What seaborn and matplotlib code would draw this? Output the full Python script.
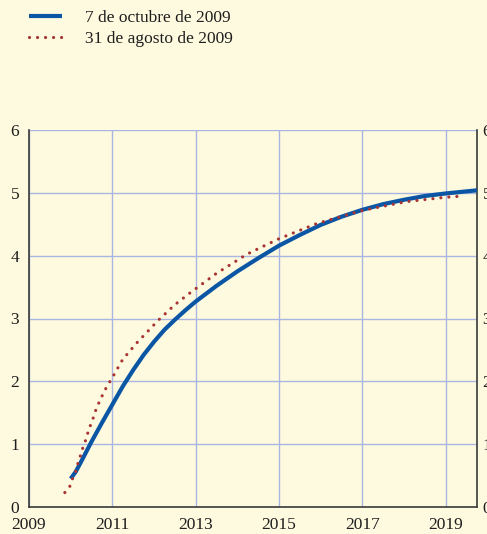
import matplotlib
matplotlib.use("Agg")
import matplotlib.pyplot as plt
import seaborn as sns

# 7 de octubre de 2009
oct_years = [2010.00, 2010.12, 2010.25, 2010.50, 2010.75, 2011.00, 2011.25, 2011.50,
             2011.75, 2012.00, 2012.25, 2012.50, 2012.75, 2013.00, 2013.50, 2014.00,
             2014.50, 2015.00, 2015.50, 2016.00, 2016.50, 2017.00, 2017.50, 2018.00,
             2018.50, 2019.00, 2019.75]
oct_vals = [0.45, 0.56, 0.72, 1.04, 1.34, 1.63, 1.92, 2.18,
            2.42, 2.63, 2.82, 2.98, 3.13, 3.27, 3.52, 3.75,
            3.96, 4.16, 4.33, 4.49, 4.62, 4.73, 4.82, 4.89,
            4.95, 4.99, 5.04]

# 31 de agosto de 2009
aug_years = [2009.86, 2009.98, 2010.05, 2010.13, 2010.18, 2010.24, 2010.30, 2010.37,
             2010.42, 2010.49, 2010.56, 2010.62, 2010.70, 2010.79, 2010.88, 2011.00,
             2011.25, 2011.57, 2012.10, 2012.50, 2012.85, 2013.48, 2014.15, 2014.31,
             2015.00, 2015.90, 2017.00, 2018.06, 2019.00, 2019.45]
aug_vals = [0.23, 0.33, 0.46, 0.58, 0.71, 0.83, 0.96, 1.08,
            1.20, 1.33, 1.45, 1.58, 1.69, 1.82, 1.93, 2.06,
            2.35, 2.60, 2.97, 3.22, 3.40, 3.71, 3.99, 4.05,
            4.27, 4.51, 4.72, 4.86, 4.93, 4.95]

x_ticks = [2009, 2011, 2013, 2015, 2017, 2019]
y_ticks = [0, 1, 2, 3, 4, 5, 6]

bg = "#FEFADF"
grid_c = "#A9B6E2"
sns.set_style("white", {"axes.facecolor": bg, "figure.facecolor": bg})
plt.rcParams["font.family"] = ["Liberation Serif", "DejaVu Serif"]

fig = plt.figure(figsize=(4.87, 5.34), dpi=100)
ax = fig.add_axes([29 / 487, 1 - 507 / 534, (477 - 29) / 487, (507 - 130) / 534])

sns.lineplot(x=oct_years, y=oct_vals, ax=ax, color="#0B56A4", linewidth=3.0,
             solid_capstyle="butt", solid_joinstyle="round",
             label="7 de octubre de 2009", zorder=3)
sns.lineplot(x=aug_years, y=aug_vals, ax=ax, color="#A83434", linewidth=2.3,
             linestyle=(0, (0.01, 2.5)), dash_capstyle="round",
             label="31 de agosto de 2009", zorder=4)

ax.set_xlim(2009, 2019.75)
ax.set_ylim(0, 6)
ax.set_xticks(x_ticks)
ax.set_yticks(y_ticks)
ax.grid(True, color=grid_c, linewidth=1.0)
ax.set_axisbelow(True)
ax.set_xlabel("")
ax.set_ylabel("")

for side in ["left", "bottom", "right"]:
    ax.spines[side].set_color("#3a3a3a")
    ax.spines[side].set_linewidth(1.2)
ax.spines["top"].set_visible(False)

ax.tick_params(axis="x", direction="out", length=4, width=1, color="#3a3a3a",
               labelsize=12.5, pad=3.5, labelcolor="#1e1e1e")
ax.tick_params(axis="y", length=0, labelsize=12.5, pad=7, labelcolor="#1e1e1e")

ax2 = ax.twinx()
ax2.set_ylim(0, 6)
ax2.set_yticks(y_ticks)
ax2.tick_params(axis="y", length=0, labelsize=12.5, pad=4, labelcolor="#1e1e1e")
for side in ["left", "bottom", "top", "right"]:
    ax2.spines[side].set_visible(False)

ax.legend(loc="upper left", bbox_to_anchor=(29 / 487, 1 - 10 / 534),
          bbox_transform=fig.transFigure, frameon=False, fontsize=12.5,
          handlelength=1.9, handletextpad=1.3, labelspacing=0.25,
          borderpad=0, borderaxespad=0, labelcolor="#1e1e1e")

fig.savefig("out.png", dpi=100, facecolor=bg)
